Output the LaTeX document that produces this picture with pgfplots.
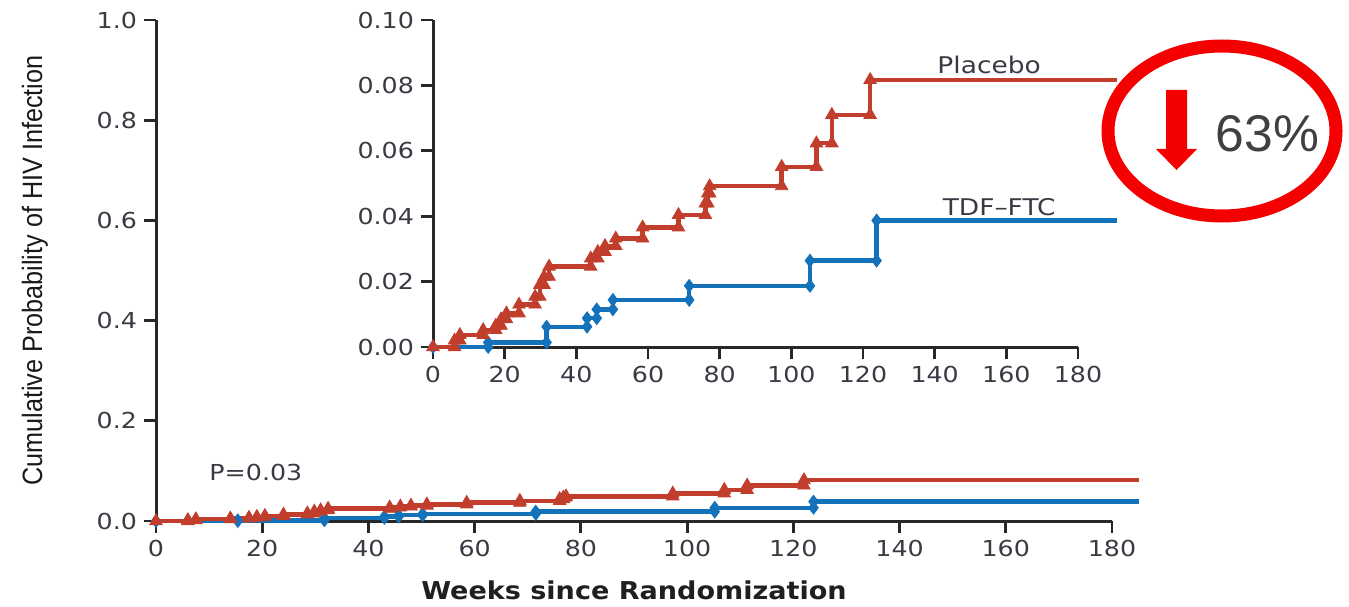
\documentclass[border=0pt]{standalone}
\usepackage{pgfplots}
\usepackage{pgfplotstable}
\pgfplotsset{compat=1.18}
\usepackage{fontspec}
\setmainfont{DejaVu Sans}
\newfontfamily\tickfont[FakeStretch=1.15]{DejaVu Sans}
\newfontfamily\xlabfont[FakeStretch=1.1]{DejaVu Sans}
\newfontfamily\ylabfont[FakeStretch=0.9]{Liberation Sans}
\newfontfamily\arialfont{Liberation Sans}
\definecolor{pbred}{RGB}{193,62,45}
\definecolor{tdfblue}{RGB}{20,114,186}
\definecolor{ticktext}{RGB}{58,58,68}
\definecolor{axisgray}{RGB}{40,40,40}
\definecolor{alertred}{RGB}{245,0,0}
\definecolor{pcttext}{RGB}{64,64,64}

\pgfplotstableread{
x y
0 0
6 0
6 0.002
7.5 0.002
7.5 0.0037
14 0.0037
14 0.0052
17.5 0.0052
17.5 0.0065
19 0.0065
19 0.0085
20.5 0.0085
20.5 0.0103
24 0.0103
24 0.013
28.5 0.013
28.5 0.0154
29.8 0.0154
29.8 0.019
31 0.019
31 0.0215
32.4 0.0215
32.4 0.0246
44 0.0246
44 0.0271
46 0.0271
46 0.0291
48 0.0291
48 0.0309
51 0.0309
51 0.0332
58.5 0.0332
58.5 0.0366
68.5 0.0366
68.5 0.0404
76 0.0404
76 0.0439
76.7 0.0439
76.7 0.047
77.2 0.047
77.2 0.0492
97.3 0.0492
97.3 0.0551
107 0.0551
107 0.0623
111.3 0.0623
111.3 0.071
122 0.071
122 0.0817
}\placebo

\pgfplotstableread{
x y
0 0
15.4 0
15.4 0.0014
31.7 0.0014
31.7 0.0062
43 0.0062
43 0.0088
45.7 0.0088
45.7 0.0115
50.2 0.0115
50.2 0.0144
71.5 0.0144
71.5 0.0187
105.2 0.0187
105.2 0.0264
123.8 0.0264
123.8 0.0387
}\tdf

\pgfplotsset{
  kmstyle/.style={
    scale only axis,
    axis lines=left,
    axis line style={-, line width=1.5pt, color=axisgray},
    tick align=outside,
    major tick length=6pt,
    every tick/.style={line width=1.4pt, color=axisgray},
    clip=false,
    /pgf/number format/assume math mode=true,
    ticklabel style={font=\tickfont\fontsize{11}{13}\selectfont, text=ticktext},
    xtick={0,20,...,180},
    xmin=0, xmax=180,
  },
  redline/.style={color=pbred, line width=2.2pt, mark=triangle*, mark size=3.6pt, mark options={solid, fill=pbred, draw=pbred, line width=0.4pt}},
  blueline/.style={color=tdfblue, line width=2.2pt, mark=diamond*, mark size=3.2pt, mark options={solid, fill=tdfblue, draw=tdfblue, line width=0.4pt}},
}

\begin{document}
\begin{tikzpicture}
\useasboundingbox (0pt,0pt) rectangle (674.5pt,303pt);

% main axis
\begin{axis}[kmstyle,
  at={(78pt,42.5pt)}, anchor=south west,
  width=478pt, height=250.5pt,
  ymin=0, ymax=1,
  ytick={0,0.2,0.4,0.6,0.8,1.0},
  yticklabel style={/pgf/number format/fixed, /pgf/number format/fixed zerofill, /pgf/number format/precision=1},
  xlabel={\xlabfont\bfseries\fontsize{12.3}{14}\selectfont Weeks since Randomization},
  xlabel style={at={(axis description cs:0.5,-0.139)}, anchor=center, text=black!88},
  ylabel={\ylabfont\fontsize{14}{16}\selectfont Cumulative Probability of HIV Infection},
  ylabel style={at={(axis description cs:-0.1266,0.5)}, anchor=center, rotate=0, text=black!90},
]
\addplot[blueline] table[x=x,y=y] {\tdf};
\addplot[color=tdfblue, line width=2.2pt] coordinates {(123.8,0.0387) (185,0.0387)};
\addplot[redline] table[x=x,y=y] {\placebo};
\addplot[color=pbred, line width=2.2pt] coordinates {(122,0.0817) (185,0.0817)};
\node[font=\tickfont\fontsize{11}{13}\selectfont, text=ticktext] at (axis cs:18.8,0.096) {P=0.03};
\end{axis}

% inset axis
\begin{axis}[kmstyle,
  at={(216.5pt,129.5pt)}, anchor=south west,
  width=322.5pt, height=163.5pt,
  ymin=0, ymax=0.1,
  ytick={0,0.02,0.04,0.06,0.08,0.10},
  yticklabel style={/pgf/number format/fixed, /pgf/number format/fixed zerofill, /pgf/number format/precision=2},
]
\addplot[blueline] table[x=x,y=y] {\tdf};
\addplot[color=tdfblue, line width=2.2pt] coordinates {(123.8,0.0387) (191,0.0387)};
\addplot[redline] table[x=x,y=y] {\placebo};
\addplot[color=pbred, line width=2.2pt] coordinates {(122,0.0817) (191,0.0817)};
\node[font=\tickfont\fontsize{11.5}{13}\selectfont, text=ticktext] at (axis cs:155.2,0.0862) {Placebo};
\node[font=\tickfont\fontsize{11.5}{13}\selectfont, text=ticktext] at (axis cs:158,0.0428) {TDF\textendash FTC};
\end{axis}

% annotation: ellipse, arrow, 63%
\draw[alertred, line width=6.5pt] (611pt,237.5pt) ellipse [x radius=57pt, y radius=42.5pt];
\fill[alertred] (583pt,258pt) -- (593.5pt,258pt) -- (593.5pt,228.5pt) -- (598.5pt,228.5pt)
  -- (588.25pt,218pt) -- (578pt,228.5pt) -- (583pt,228.5pt) -- cycle;
\node[font=\arialfont\fontsize{25.8}{28}\selectfont, text=pcttext, anchor=base] at (633.75pt,227pt) {63\%};
\end{tikzpicture}
\end{document}
